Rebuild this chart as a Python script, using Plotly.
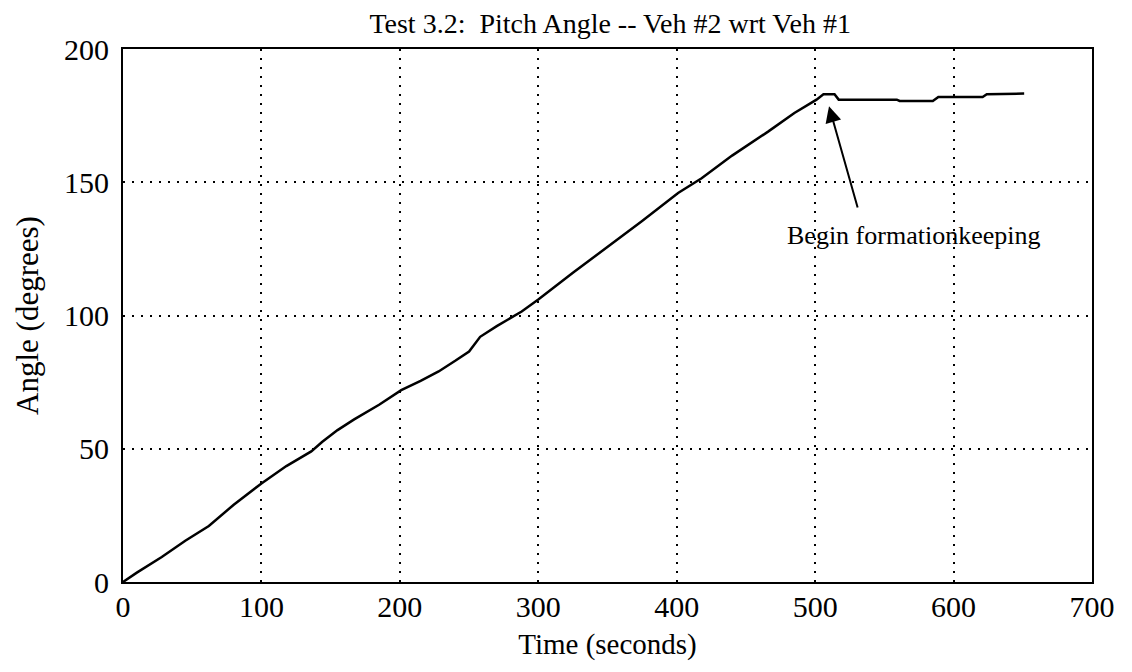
import plotly.graph_objects as go

# Data
time_s = [0, 10, 28, 45, 62, 80, 100, 118, 136, 144, 155, 167, 185, 201, 215, 228,
          240, 250, 258, 270, 288, 300, 325, 351, 375, 401, 418, 440, 466, 485,
          501, 506, 514, 517, 559, 561, 585, 589, 621, 624, 651]
angle_deg = [0, 3.5, 9.4, 15.5, 21, 29, 37, 43.5, 49, 52.6, 57, 61, 66.5, 72, 75.5, 79,
             83, 86.5, 92, 96, 101.5, 106, 116, 126, 135.5, 146, 151.5, 160, 169, 176,
             181, 183, 183, 181, 181, 180.5, 180.5, 182, 182, 183, 183.3]

x_ticks = [0, 100, 200, 300, 400, 500, 600, 700]
y_ticks = [0, 50, 100, 150, 200]

title_text = "Test 3.2:  Pitch Angle -- Veh #2 wrt Veh #1"
x_title = "Time (seconds)"
y_title = "Angle (degrees)"
note_text = "Begin formationkeeping"
note_head = (510, 178.5)
note_tail = (531, 140)
note_pos = (571, 130)

FONT = "Liberation Serif, Times New Roman, serif"

fig = go.Figure()
fig.add_trace(go.Scatter(x=time_s, y=angle_deg, mode="lines",
                         line=dict(color="black", width=2.5), showlegend=False,
                         hoverinfo="skip"))

grid_style = dict(showgrid=True, gridcolor="black", gridwidth=1.5, griddash="2px,7px",
                  showline=True, linecolor="black", linewidth=2, mirror=True,
                  zeroline=False, ticks="", tickfont=dict(family=FONT, size=30, color="black"))

fig.update_xaxes(range=[0, 700], tickvals=x_ticks, ticktext=[str(v) for v in x_ticks],
                 ticklabelstandoff=-3,
                 title=dict(text=x_title, font=dict(family=FONT, size=29, color="black"), standoff=12),
                 **grid_style)
fig.update_yaxes(range=[0, 200], tickvals=y_ticks, ticktext=[str(v) for v in y_ticks],
                 ticklabelstandoff=6,
                 title=dict(text=y_title, font=dict(family=FONT, size=31, color="black"), standoff=16),
                 **grid_style)

fig.add_annotation(x=note_head[0], y=note_head[1], ax=note_tail[0], ay=note_tail[1],
                   axref="x", ayref="y", xref="x", yref="y", text="",
                   showarrow=True, arrowhead=2, arrowsize=1.6, arrowwidth=2, arrowcolor="black")
fig.add_annotation(x=note_pos[0], y=note_pos[1], xref="x", yref="y", text=note_text,
                   showarrow=False, font=dict(family=FONT, size=26, color="black"))

fig.update_layout(
    width=1132, height=672,
    margin=dict(l=123, r=40, t=49, b=90),
    paper_bgcolor="white", plot_bgcolor="white",
    title=dict(text=title_text, x=0.539, xanchor="center", y=1 - 23 / 672, yanchor="middle",
               font=dict(family=FONT, size=28, color="black")),
)

fig.write_html("out.html")
